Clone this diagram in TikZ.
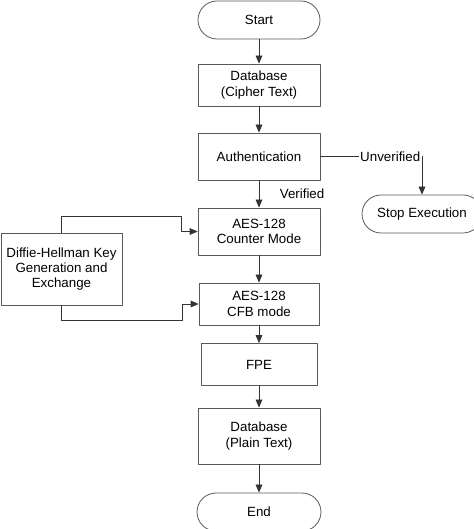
\documentclass[tikz,border=0pt]{standalone}
\usepackage{fontspec}
\setmainfont{Liberation Sans}
\usetikzlibrary{arrows.meta}
\definecolor{boxgray}{rgb}{0.35,0.35,0.35}
\definecolor{linegray}{rgb}{0.2,0.2,0.2}

\begin{document}
\begin{tikzpicture}[line cap=round,line join=round,>={Triangle[length=6pt,width=5pt]},x=0.75pt,y=0.75pt,
    font=\fontsize{10}{11.5}\selectfont,
    block/.style={draw=boxgray,line width=0.6pt,align=center,inner sep=0pt,minimum width=91.5pt},
    term/.style={block,minimum height=28.5pt,rounded corners=14.25pt},
    conn/.style={->,draw=linegray,line width=0.6pt}]
    \clip(0,0) rectangle (474,529);
    % main column
    \node[term] (start) at (259,509) {Start};
    \node[block,minimum height=31.5pt] (dbcipher) at (259,444) {Database\\(Cipher Text)};
    \node[block,minimum height=35.25pt] (auth) at (259,372.5) {Authentication};
    \node[block,minimum height=35.25pt] (aesctr) at (259,297.5) {AES-128\\Counter Mode};
    \node[block,minimum width=90pt,minimum height=31.5pt] (aescfb) at (259,225) {AES-128\\CFB mode};
    \node[block,minimum width=87pt,minimum height=31.5pt] (fpe) at (259,164.5) {FPE};
    \node[block,minimum height=42pt] (dbplain) at (259,93) {Database\\(Plain Text)};
    \node[term,minimum width=93pt] (end) at (259,17) {End};
    % side nodes
    \node[term,minimum width=90pt] (stop) at (422,315) {Stop Execution};
    \node[block,minimum width=90.75pt,minimum height=54pt] (dh) at (61.5,260) {Diffie-Hellman Key\\Generation and\\Exchange};
    % connectors
    \draw[conn] (start) -- (dbcipher);
    \draw[conn] (dbcipher) -- (auth);
    \draw[conn] (auth) -- node[right=12pt] {Verified} (aesctr);
    \draw[conn] (auth.east) -| node[pos=0.5,anchor=east,fill=white,inner xsep=1pt] {Unverified} (stop.north);
    \draw[conn] (aesctr) -- (aescfb);
    \draw[conn] (aescfb) -- (fpe);
    \draw[conn] (fpe) -- (dbplain);
    \draw[conn] (dbplain) -- (end);
    \draw[conn] (dh.north) -- ++(0,16) -| ([xshift=-12pt]aesctr.west) -- (aesctr.west);
    \draw[conn] (dh.south) -- ++(0,-15) -| ([xshift=-12pt]aescfb.west) -- (aescfb.west);
\end{tikzpicture}
\end{document}
